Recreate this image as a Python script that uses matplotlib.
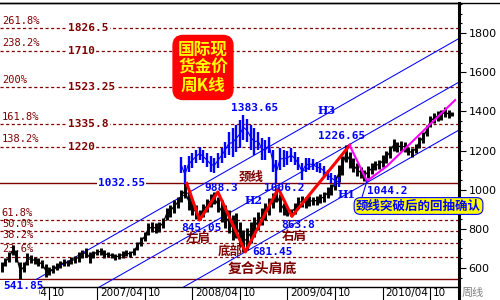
import pandas as pd
import matplotlib
matplotlib.use('Agg')
import matplotlib.pyplot as plt
from matplotlib.lines import Line2D
from matplotlib.patches import Rectangle
from matplotlib.ticker import MultipleLocator
from matplotlib.transforms import blended_transform_factory, ScaledTranslation

cjk = ['Noto Sans CJK SC', 'DejaVu Sans']
mono = 'DejaVu Sans Mono'
dred = '#800000'

# weekly gold price, sampled every two weeks (high / low)
start_date = '2006-04-07'
black_high = [630, 651, 681, 717, 692, 630, 630, 676, 666, 656,
              651, 640, 620, 605, 615, 625, 635, 646, 640, 656,
              661, 681, 692, 702, 681, 686, 697, 702, 692, 681,
              676, 671, 676, 686, 692, 686, 702, 732, 758, 784,
              830, 835, 830, 835, 855, 906, 922, 947, 963, 998,
              1032, 988, 947, 922, 896, 927, 952, 978, 988, 963,
              947, 922, 896, 871, 881, 835, 794, 804, 835, 860,
              886, 906, 932, 957, 983, 1006, 978, 932, 911, 901,
              932, 963, 968, 963, 968, 963, 968, 978, 988, 1014,
              1030, 1070, 1126, 1172, 1227, 1193, 1162, 1136, 1116, 1100,
              1121, 1136, 1147, 1152, 1177, 1198, 1223, 1259, 1244, 1249,
              1244, 1218, 1213, 1233, 1269, 1295, 1331, 1377, 1392, 1402,
              1407, 1423, 1407, 1397]
black_low = [579, 610, 630, 666, 630, 542, 579, 615, 625, 620,
             610, 600, 554, 564, 574, 589, 600, 610, 610, 620,
             625, 630, 651, 656, 625, 651, 666, 666, 651, 656,
             651, 640, 646, 651, 661, 656, 666, 692, 712, 738,
             768, 784, 778, 784, 804, 845, 860, 881, 906, 937,
             957, 896, 870, 850, 845, 860, 886, 911, 927, 886,
             835, 804, 778, 743, 753, 712, 681, 692, 727, 758,
             794, 820, 845, 870, 906, 937, 886, 870, 866, 864,
             876, 906, 911, 906, 916, 922, 922, 932, 937, 957,
             973, 998, 1039, 1075, 1141, 1111, 1090, 1070, 1060, 1044,
             1060, 1080, 1100, 1106, 1116, 1136, 1162, 1198, 1193, 1198,
             1193, 1177, 1167, 1187, 1213, 1239, 1274, 1320, 1341, 1351,
             1356, 1372, 1366, 1377]

# mirrored projection (blue)
blue_start = '2008-02-22'
blue_high = [1167, 1126, 1172, 1187, 1203, 1218, 1203, 1187, 1172, 1162,
             1187, 1213, 1244, 1295, 1315, 1331, 1356, 1383, 1361, 1331,
             1315, 1295, 1264, 1254, 1269, 1203, 1152, 1213, 1203, 1198,
             1213, 1193, 1167, 1136, 1162, 1162, 1157, 1141, 1136, 1121,
             1100, 1085, 1075, 1065]
blue_low = [1085, 1029, 1090, 1111, 1136, 1152, 1136, 1116, 1090, 1085,
            1111, 1136, 1162, 1177, 1167, 1193, 1213, 1254, 1244, 1203,
            1177, 1203, 1152, 1152, 1187, 1090, 1034, 1100, 1116, 1126,
            1141, 1126, 1100, 1049, 1090, 1100, 1100, 1090, 1085, 1070,
            1049, 1034, 1019, 1014]

# head & shoulders pivots
hs_dates = ['2008-03-14', '2008-05-02', '2008-07-11', '2008-10-24',
            '2009-02-27', '2009-04-20', '2009-11-27']
hs_values = [1032.55, 845.05, 988.3, 681.45, 1006.2, 863.8, 1226.65]
hs_labels = ['', '845.05', '988.3', '681.45', '1006.2', '863.8', '1226.65']

pull_dates = ['2009-11-27', '2010-02-01', '2010-04-19', '2011-01-04']
pull_values = [1226.65, 1044.2, 1121, 1458]

# parallel channel lines (start, end)
chan_dates = [('2006-07-17', '2011-01-19'), ('2007-03-10', '2011-01-19'),
              ('2008-01-29', '2011-01-19')]
chan_values = [(518, 1773), (475, 1550), (477, 1305)]

# fibonacci levels
fib_hi = [1826.5, 1710, 1523.25, 1335.8, 1220]
fib_hi_val = ['1826.5', '1710', '1523.25', '1335.8', '1220']
fib_hi_pct = ['261.8%', '238.2%', '200%', '161.8%', '138.2%']
fib_lo = [845.05, 787.2, 729.3, 657.7]
fib_lo_pct = ['61.8%', '50.0%', '38.2%', '23.6%']
neck = 1032.55
base = 541.85

tick_dates = ['2006-04-07', '2006-10-06', '2007-04-06', '2007-10-05', '2008-04-04',
              '2008-10-03', '2009-04-03', '2009-10-02', '2010-04-02', '2010-10-01']
tick_labels = ['2006/04', '10', '2007/04', '10', '2008/04',
               '10', '2009/04', '10', '2010/04', '10']

dates = pd.date_range(start_date, periods=len(black_high), freq='14D')
bdates = pd.date_range(blue_start, periods=len(blue_high), freq='14D')

fig = plt.figure(figsize=(5, 3), dpi=100)
ax = fig.add_axes([0, 13 / 300, 459 / 500, 284 / 300])
ax.set_xlim(pd.Timestamp('2006-03-31'), pd.Timestamp('2011-01-19'))
ax.set_ylim(502.5, 1954.3)
bl = blended_transform_factory(ax.transAxes, ax.transData)

# horizontal levels
for v, s, p in zip(fib_hi, fib_hi_val, fib_hi_pct):
    ax.axhline(v, color=dred, lw=0.9, ls=(0, (2.5, 2)), zorder=1)
    ax.text(0.148, v, s, transform=bl, ha='left', va='center', color=dred,
            fontsize=8, fontweight='bold', family=mono, zorder=6,
            bbox=dict(boxstyle='square,pad=0.1', fc='white', ec='none'))
    ax.text(0.004, v + 12, p, transform=bl, ha='left', va='bottom', color=dred,
            fontsize=7.5, family=mono, zorder=2.5)
for v, p in zip(fib_lo, fib_lo_pct):
    ax.axhline(v, color=dred, lw=0.9, ls=(0, (2.5, 2)), zorder=1)
    ax.text(0.004, v + 12, p, transform=bl, ha='left', va='bottom', color=dred,
            fontsize=7.5, family=mono, zorder=2.5)
ax.axhline(neck, color=dred, lw=1.0, zorder=1)
ax.axhline(base, color=dred, lw=1.0, zorder=1)
ax.text(0.2135, neck, '1032.55', transform=bl, ha='left', va='center', color='blue',
        fontsize=8, fontweight='bold', family=mono, zorder=6,
        bbox=dict(boxstyle='square,pad=0.1', fc='white', ec='none'))

# channel lines
for (d0, d1), (v0, v1) in zip(chan_dates, chan_values):
    ax.plot([pd.Timestamp(d0), pd.Timestamp(d1)], [v0, v1], color='blue', lw=0.75, zorder=2)

# price bars
mid = [(h + l) / 2 for h, l in zip(black_high, black_low)]
ax.vlines(dates, black_low, black_high, color='black', lw=2.1, zorder=3)
ax.plot(dates, mid, color='black', lw=0.9, zorder=3)
bmid = [(h + l) / 2 for h, l in zip(blue_high, blue_low)]
ax.vlines(bdates, blue_low, blue_high, color='blue', lw=1.7, zorder=3.5)
ax.plot(bdates, bmid, color='blue', lw=0.8, zorder=3.5)

# pattern lines
hs_x = pd.to_datetime(hs_dates)
ax.plot(hs_x, hs_values, color='red', lw=2.2, zorder=4)
ax.plot(pd.to_datetime(pull_dates), pull_values, color='#FF00FF', lw=1.5, zorder=4)

# value labels at pivots
offs = [None, (1.5, -5.5), (2.7, 3.0), (5, 0), (4.5, 0.5), (4.8, -6.3), (-6, 6.7)]
for x, v, s, o in zip(hs_x, hs_values, hs_labels, offs):
    if not s:
        continue
    ha = 'left' if s == '681.45' else 'center'
    ax.annotate(s, (x, v), xytext=o, textcoords='offset points', ha=ha, va='center',
                color='blue', fontsize=8, fontweight='bold', family=mono, zorder=7)
ax.annotate('1383.65', (pd.Timestamp('2008-10-24'), 1383.65), xytext=(6.5, 4.8),
            textcoords='offset points', ha='center', va='center', color='blue',
            fontsize=8, fontweight='bold', family=mono, zorder=7)
ax.annotate('1044.2', (pd.Timestamp('2010-02-01'), 1044.2), xytext=(0, -7.4),
            textcoords='offset points', ha='left', va='center', color='blue',
            fontsize=8, fontweight='bold', family=mono, zorder=7)

# H labels
for s, x, y in [('H3', 0.711, 0.620), ('H2', 0.553, 0.303), ('H1', 0.754, 0.327)]:
    ax.text(x, y, s, transform=ax.transAxes, ha='center', va='center', color='blue',
            fontsize=8, fontweight='bold', family='DejaVu Serif', zorder=7)

# chinese annotations
for s, x, y, fs in [('颈线', 0.547, 0.384, 9), ('左肩', 0.4325, 0.171, 9),
                    ('底部', 0.501, 0.125, 9), ('右肩', 0.6416, 0.178, 9),
                    ('复合头肩底', 0.572, 0.0651, 10)]:
    ax.text(x, y, s, transform=ax.transAxes, ha='center', va='center', color=dred,
            fontsize=fs, fontweight='bold', family=cjk, zorder=7)

ax.text(0.4423, 0.773, '国际现\n货金价\n周K线', transform=ax.transAxes, ha='center',
        va='center', color='yellow', fontsize=12, fontweight='bold', family=cjk,
        linespacing=1.0, zorder=8,
        bbox=dict(boxstyle='round,pad=0.3,rounding_size=0.6', fc='red', ec='red'))

ax.annotate('颈线突破后的回抽确认', xy=(pd.Timestamp('2010-02-01'), 1044.2),
            xytext=(0.9118, 0.2852), textcoords='axes fraction', ha='center', va='center',
            fontsize=9, fontweight='bold', color='blue', family=cjk, zorder=9,
            annotation_clip=False,
            bbox=dict(boxstyle='round,pad=0.15,rounding_size=0.5', fc='yellow', ec='blue', lw=0.8),
            arrowprops=dict(arrowstyle='-', color='blue', lw=0.8, relpos=(0.02, 0.3),
                            shrinkA=0, shrinkB=0))

# axes styling
ax.spines['left'].set_visible(False)
ax.spines['top'].set_linewidth(1.0)
ax.spines['bottom'].set_linewidth(1.0)
ax.spines['right'].set_linewidth(2.2)
ax.yaxis.tick_right()
ax.set_yticks(range(600, 1801, 200))
ax.yaxis.set_minor_locator(MultipleLocator(50))
ax.tick_params(axis='y', which='major', length=5, width=0.8, pad=2, labelsize=8)
ax.tick_params(axis='y', which='minor', length=2.5, width=0.8)
ax.set_xticks(pd.to_datetime(tick_dates))
ax.set_xticklabels(tick_labels, ha='left', fontsize=7.5)
ax.tick_params(axis='x', length=9.5, width=0.8, pad=-8.5)
for lbl in ax.get_xticklabels():
    lbl.set_transform(lbl.get_transform() + ScaledTranslation(2 / 72, 0, fig.dpi_scale_trans))

# base label, hides the first date label like the original
ax.add_patch(Rectangle((0, -0.05), 39 / 459, 0.075, transform=ax.transAxes,
                       fc='white', ec='none', clip_on=False, zorder=9))
ax.text(0.007, 0.0035, '541.85', transform=ax.transAxes, ha='left', va='center',
        color='blue', fontsize=8, fontweight='bold', family=mono, zorder=10)

fig.add_artist(Line2D([0, 1], [1 - 3 / 300, 1 - 3 / 300], color='black', lw=1.0))
fig.add_artist(Line2D([459 / 500, 459 / 500], [0, 13 / 300], color='black', lw=2.2))
fig.text(462 / 500, 7 / 300, '周线', color='#808080', fontsize=8, family=cjk,
         ha='left', va='center')

plt.savefig('out.png', dpi=100)
print('Plot saved')
